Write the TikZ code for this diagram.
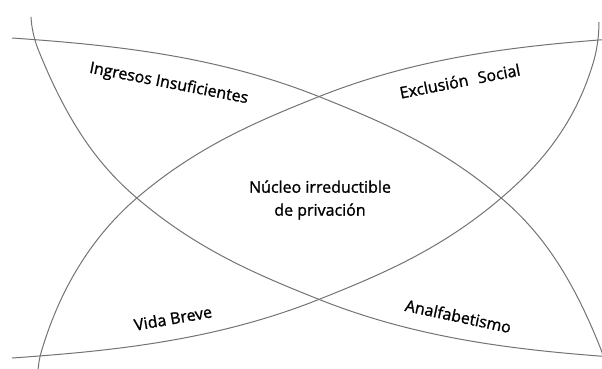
\documentclass[tikz,border=0pt]{standalone}
\usepackage{fontspec}
\setmainfont{Open Sans}
\newfontfamily\lblfont{Open Sans}[FakeBold=1.2]
\begin{document}
\begin{tikzpicture}[x=1pt,y=-1pt,
  curve/.style={draw=black!55, line width=1pt},
  lbl/.style={font=\lblfont\fontsize{16}{23}\selectfont, inner sep=0pt, anchor=base}]
\useasboundingbox (0,0) rectangle (602,369);
\fill[white] (0,0) rectangle (602,369);
\begin{scope}
\clip (0,0) rectangle (602,369);
% curve A: top-left horizontal to bottom-right steep
\draw[curve] (12,38) .. controls (115,45.2) and (217,55.8) .. (320,97)
  .. controls (380,121) and (440,146) .. (500,197)
  .. controls (533.3,225.3) and (566.7,263.7) .. (600,347)
  .. controls (602,352) and (604,358) .. (606,366);
% curve D: top-left steep to bottom-right horizontal
\draw[curve] (626,358) .. controls (523,350.8) and (421,340.2) .. (318,299)
  .. controls (258,275) and (198,250) .. (138,199)
  .. controls (104.7,170.7) and (71.3,132.3) .. (38,49)
  .. controls (34,39) and (31.5,27) .. (31,17);
% curve C: top-right horizontal to bottom-left steep
\draw[curve] (626,38) .. controls (523,45.2) and (421,55.8) .. (318,97)
  .. controls (258,121) and (198,146) .. (138,197)
  .. controls (104.7,225.3) and (68,270) .. (45,340)
  .. controls (41,352) and (38.5,360) .. (38,372);
% curve B: bottom-left horizontal to top-right steep
\draw[curve] (12,358) .. controls (115,350.8) and (217,340.2) .. (320,299)
  .. controls (380,275) and (440,250) .. (500,199)
  .. controls (533.3,170.7) and (574,130) .. (594,60)
  .. controls (597,49.5) and (599,35) .. (599,22);
\end{scope}
\node[lbl, rotate=-11] (ingresos) at (168,88) {Ingresos Insuficientes};
\node[lbl, rotate=11] (exclusion) at (461,87) {Exclusión\hspace{0.35em} Social};
\node[lbl, rotate=10] (vida) at (174,324) {Vida Breve};
\node[lbl, rotate=-12] (analf) at (457,322) {Analfabetismo};
\node[lbl, anchor=center, align=center] (nucleo) at (320,200) {Núcleo irreductible\\de privación};
\end{tikzpicture}
\end{document}
